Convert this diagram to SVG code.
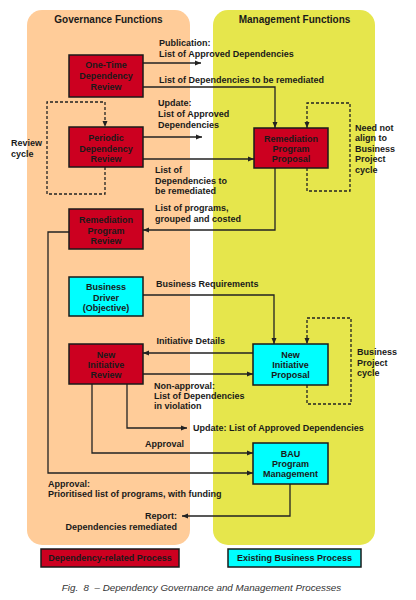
<svg xmlns="http://www.w3.org/2000/svg" width="416" height="600" viewBox="0 0 416 600">
<style>
text{font-family:"Liberation Sans",Arial,sans-serif;font-size:9px;font-weight:bold;fill:#1a1a1a}
.title{font-size:10px}
.box text,.leg text{text-anchor:middle}
.red{fill:#CC0020;stroke:#1a1a1a;stroke-width:1.5}
.cyan{fill:#00FFFF;stroke:#1a1a1a;stroke-width:1.5}
.ln{fill:none;stroke:#222;stroke-width:1.3;marker-end:url(#ah)}
.dash{fill:none;stroke:#222;stroke-width:1.3;stroke-dasharray:3,2;marker-end:url(#ah)}
.cap{font-style:italic;font-weight:normal;fill:#333;font-size:9.8px;text-anchor:middle}
</style>
<defs>
<marker id="ah" markerUnits="userSpaceOnUse" markerWidth="6" markerHeight="6" refX="6" refY="3" orient="auto">
<path d="M0,0.5 L6,3 L0,5.5 z" fill="#222"/>
</marker>
</defs>
<rect width="416" height="600" fill="#fff"/>
<g id="panel-governance">
<rect x="27" y="10" width="163" height="535" rx="15" fill="#FFCC99"/>
<text class="title" x="108.5" y="23" text-anchor="middle">Governance Functions</text>
</g>
<g id="panel-management">
<rect x="213" y="10" width="162" height="535" rx="15" fill="#E6E64C"/>
<text class="title" x="294.5" y="23" text-anchor="middle">Management Functions</text>
</g>
<g id="connectors">
<path class="ln" d="M143,63 H201"/>
<path class="ln" d="M143,87 H275 V128"/>
<path class="ln" d="M143,137 H202"/>
<path class="ln" d="M143,159 H254"/>
<path class="ln" d="M275,168 V230 H143"/>
<path class="ln" d="M143,295 H274 V344"/>
<path class="ln" d="M253,353 H143"/>
<path class="ln" d="M143,374 H253"/>
<path class="ln" d="M127,384 V428 H187"/>
<path class="ln" d="M92,384 V453 H253"/>
<path class="ln" d="M69,232 H48 V473 H253"/>
<path class="ln" d="M290,484 V516 H182"/>
<path class="dash" d="M105,167 V194 H47 V102 H105 V127"/>
<path class="dash" d="M307,168 V191 H350 V103 H307 V128"/>
<path class="dash" d="M307,385 V404 H351 V318 H307 V344"/>
</g>
<g id="labels">
<text x="159" y="46">Publication:</text>
<text x="159" y="56.5">List of Approved Dependencies</text>
<text x="159" y="83">List of Dependencies to be remediated</text>
<text x="158" y="106">Update:</text>
<text x="158" y="117">List of Approved</text>
<text x="158" y="128">Dependencies</text>
<text x="155" y="173">List of</text>
<text x="155" y="183.5">Dependencies to</text>
<text x="155" y="194">be remediated</text>
<text x="155" y="211">List of programs,</text>
<text x="155" y="222">grouped and costed</text>
<text x="156" y="287">Business Requirements</text>
<text x="156.5" y="344">Initiative Details</text>
<text x="154" y="389">Non-approval:</text>
<text x="154" y="399">List of Dependencies</text>
<text x="154" y="409">in violation</text>
<text x="193" y="431">Update: List of Approved Dependencies</text>
<text x="145" y="447">Approval</text>
<text x="48" y="487">Approval:</text>
<text x="48" y="497">Prioritised list of programs, with funding</text>
<text x="177" y="519" text-anchor="end">Report:</text>
<text x="177" y="530" text-anchor="end">Dependencies remediated</text>
<text x="11" y="146">Review</text>
<text x="11" y="157">cycle</text>
<text x="355" y="131">Need not</text>
<text x="355" y="141">align to</text>
<text x="355" y="151.5">Business</text>
<text x="355" y="162">Project</text>
<text x="355" y="173">cycle</text>
<text x="357" y="355">Business</text>
<text x="357" y="365.5">Project</text>
<text x="357" y="376">cycle</text>
</g>
<g id="one-time-review" class="box">
<rect class="red" x="69" y="55" width="74" height="42"/>
<text x="106" y="68">One-Time</text>
<text x="106" y="79">Dependency</text>
<text x="106" y="89.5">Review</text>
</g>
<g id="periodic-review" class="box">
<rect class="red" x="69" y="127" width="74" height="40"/>
<text x="106" y="141">Periodic</text>
<text x="106" y="151.5">Dependency</text>
<text x="106" y="161.5">Review</text>
</g>
<g id="remediation-review" class="box">
<rect class="red" x="69" y="209" width="74" height="40"/>
<text x="106" y="223">Remediation</text>
<text x="106" y="233.5">Program</text>
<text x="106" y="243.5">Review</text>
</g>
<g id="business-driver" class="box">
<rect class="cyan" x="69" y="277" width="74" height="39"/>
<text x="106" y="290">Business</text>
<text x="106" y="300.5">Driver</text>
<text x="106" y="310.5">(Objective)</text>
</g>
<g id="new-initiative-review" class="box">
<rect class="red" x="69" y="344" width="74" height="40"/>
<text x="106" y="357.5">New</text>
<text x="106" y="367.5">Initiative</text>
<text x="106" y="378">Review</text>
</g>
<g id="remediation-proposal" class="box">
<rect class="red" x="254" y="128" width="74" height="40"/>
<text x="291" y="141.5">Remediation</text>
<text x="291" y="151.5">Program</text>
<text x="291" y="162">Proposal</text>
</g>
<g id="new-initiative-proposal" class="box">
<rect class="cyan" x="253" y="344" width="75" height="41"/>
<text x="290.5" y="357.5">New</text>
<text x="290.5" y="368">Initiative</text>
<text x="290.5" y="378">Proposal</text>
</g>
<g id="bau-management" class="box">
<rect class="cyan" x="253" y="443" width="75" height="41"/>
<text x="290.5" y="456.5">BAU</text>
<text x="290.5" y="467">Program</text>
<text x="290.5" y="477">Management</text>
</g>
<g id="legend-dependency" class="leg">
<rect class="red" x="41" y="549" width="138" height="18"/>
<text x="110" y="561">Dependency-related Process</text>
</g>
<g id="legend-existing" class="leg">
<rect class="cyan" x="228" y="549" width="133" height="18"/>
<text x="294.5" y="561">Existing Business Process</text>
</g>
<text class="cap" x="201.5" y="591" xml:space="preserve">Fig.  8  – Dependency Governance and Management Processes</text>
</svg>
